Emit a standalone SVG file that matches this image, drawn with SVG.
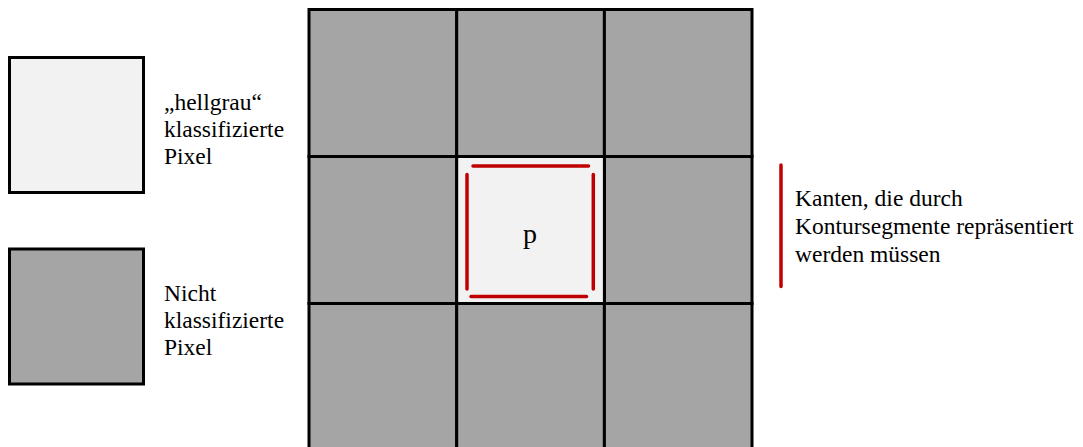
<svg xmlns="http://www.w3.org/2000/svg" width="1083" height="447" viewBox="0 0 1083 447">
<style>
.dark{fill:#a5a5a5;stroke:#000;stroke-width:3}
.light{fill:#f2f2f2;stroke:#000;stroke-width:3}
.edge{stroke:#c00000;stroke-width:3.5;stroke-linecap:round;fill:none}
text{font-family:'Liberation Serif',Tinos,'DejaVu Serif',serif;font-size:23.5px;fill:#000}
</style>
<rect width="1083" height="447" fill="#fff"/>
<g id="legend-light">
<rect class="light" x="9.5" y="57.5" width="134" height="135"/>
<text x="164" y="110">„hellgrau“</text>
<text x="164" y="137">klassifizierte</text>
<text x="164" y="164">Pixel</text>
</g>
<g id="legend-dark">
<rect class="dark" x="9.5" y="249" width="134" height="135"/>
<text x="164" y="301">Nicht</text>
<text x="164" y="328">klassifizierte</text>
<text x="164" y="355">Pixel</text>
</g>
<g id="grid">
<rect class="dark" x="309" y="9.5" width="147.7" height="147"/>
<rect class="dark" x="456.7" y="9.5" width="147.7" height="147"/>
<rect class="dark" x="604.4" y="9.5" width="147.6" height="147"/>
<rect class="dark" x="309" y="156.5" width="147.7" height="147"/>
<rect class="dark" x="604.4" y="156.5" width="147.6" height="147"/>
<rect class="dark" x="309" y="303.5" width="147.7" height="147"/>
<rect class="dark" x="456.7" y="303.5" width="147.7" height="147"/>
<rect class="dark" x="604.4" y="303.5" width="147.6" height="147"/>
</g>
<g id="pixel-p">
<rect class="light" x="456.7" y="156.5" width="147.7" height="147"/>
<text x="530" y="243" text-anchor="middle" style="font-size:28px">p</text>
</g>
<g id="edges">
<line class="edge" x1="473" y1="166" x2="588.5" y2="166"/>
<line class="edge" x1="471" y1="296.5" x2="586.5" y2="296.5"/>
<line class="edge" x1="467" y1="174.5" x2="467" y2="289"/>
<line class="edge" x1="593.3" y1="174.5" x2="593.3" y2="289"/>
</g>
<g id="legend-edge">
<line class="edge" x1="781" y1="165" x2="781" y2="286.5"/>
<text x="795" y="206">Kanten, die durch</text>
<text x="795" y="234">Kontursegmente repräsentiert</text>
<text x="795" y="262">werden müssen</text>
</g>
</svg>
